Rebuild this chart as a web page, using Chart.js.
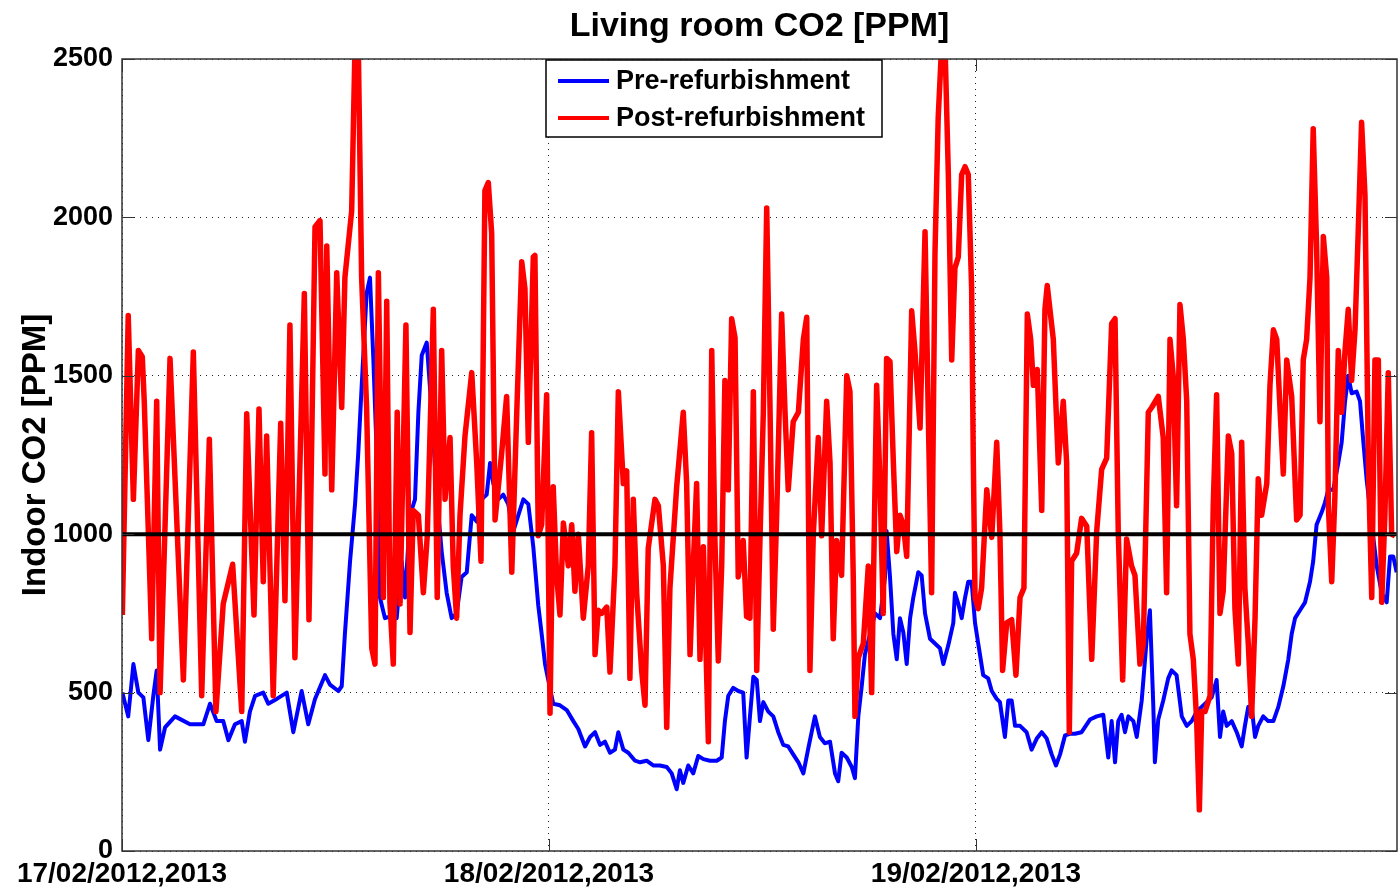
<!DOCTYPE html>
<html>
<head>
<meta charset="utf-8">
<title>Living room CO2 [PPM]</title>
<script src="https://cdn.jsdelivr.net/npm/chart.js@4.4.1/dist/chart.umd.min.js"></script>
<style>
  html, body { margin: 0; padding: 0; background: #fff; }
  #wrap { width: 1398px; height: 887px; }
</style>
</head>
<body>
<div id="wrap"><canvas id="co2" width="1398" height="887"></canvas></div>
<script>
// hours counted from 17/02 00:00, values in ppm
const dayLabels = ["17/02/2012,2013", "18/02/2012,2013", "19/02/2012,2013"];
const dayTicks = [0, 24, 48];
const hoursShown = 71.67;
const co2Limit = 1000;

const preHours = [
  0.02, 0.35, 0.64, 0.92, 1.20, 1.48, 1.76, 1.95, 2.14, 2.42, 2.98, 3.82, 4.57, 4.95, 5.32, 5.69,
  5.98, 6.35, 6.73, 6.91, 7.19, 7.48, 7.94, 8.22, 8.70, 9.26, 9.63, 10.10, 10.47, 10.85, 11.41, 11.69,
  12.16, 12.35, 12.53, 12.82, 13.10, 13.28, 13.47, 13.75, 13.94, 14.13, 14.32, 14.50, 14.78, 15.06,
  15.44, 15.72, 15.91, 16.19, 16.47, 16.66, 16.85, 17.13, 17.41, 17.69, 17.97, 18.25, 18.53, 18.81,
  19.09, 19.38, 19.66, 19.94, 20.22, 20.50, 20.69, 20.87, 21.15, 21.43, 21.71, 22.00, 22.28, 22.56,
  22.84, 23.12, 23.40, 23.59, 23.78, 23.96, 24.24, 24.62, 25.00, 25.37, 25.65, 26.03, 26.31, 26.59,
  26.87, 27.15, 27.43, 27.71, 27.90, 28.18, 28.46, 28.84, 29.12, 29.49, 29.86, 30.24, 30.62, 30.90,
  31.18, 31.36, 31.55, 31.83, 32.11, 32.39, 32.68, 33.05, 33.43, 33.71, 33.89, 34.08, 34.36, 34.64,
  34.92, 35.11, 35.30, 35.49, 35.68, 35.86, 36.05, 36.33, 36.61, 36.89, 37.17, 37.45, 37.73, 38.02,
  38.30, 38.58, 38.95, 39.23, 39.51, 39.80, 40.08, 40.26, 40.45, 40.74, 41.02, 41.20, 41.39, 41.58,
  41.76, 42.05, 42.33, 42.61, 42.89, 42.98, 43.17, 43.36, 43.55, 43.73, 43.92, 44.11, 44.30, 44.48,
  44.76, 44.95, 45.14, 45.42, 45.70, 45.98, 46.17, 46.45, 46.73, 46.82, 47.01, 47.20, 47.39, 47.57,
  47.76, 47.95, 48.13, 48.41, 48.69, 48.89, 49.17, 49.35, 49.63, 49.82, 50.01, 50.20, 50.48, 50.85,
  51.13, 51.42, 51.70, 51.98, 52.26, 52.50, 52.73, 53.01, 53.29, 53.57, 53.94, 54.41, 54.79, 55.16,
  55.44, 55.63, 55.82, 56.00, 56.19, 56.38, 56.57, 56.85, 57.04, 57.32, 57.60, 57.78, 57.97, 58.06,
  58.25, 58.53, 58.81, 59.00, 59.28, 59.57, 59.85, 60.13, 60.41, 60.69, 60.97, 61.25, 61.53, 61.72,
  61.90, 62.10, 62.38, 62.66, 62.94, 63.12, 63.31, 63.50, 63.69, 63.87, 64.15, 64.43, 64.72, 65.00,
  65.28, 65.56, 65.75, 65.94, 66.22, 66.50, 66.78, 66.96, 67.15, 67.44, 67.62, 67.81, 68.09, 68.37,
  68.56, 68.75, 68.93, 69.12, 69.40, 69.59, 69.78, 69.96, 70.25, 70.53, 70.81, 71.09, 71.28, 71.46,
  71.65
];
const preCO2 = [
  500, 425, 590, 500, 485, 350, 490, 570, 320, 390, 425, 400, 400, 465, 410, 410,
  350, 400, 410, 345, 440, 490, 500, 465, 480, 500, 375, 505, 400, 480, 555, 525,
  505, 520, 685, 915, 1095, 1255, 1465, 1760, 1810, 1550, 1250, 800, 735, 740,
  735, 915, 800, 1060, 1110, 1385, 1565, 1605, 1385, 1125, 945, 815, 735, 750,
  865, 880, 1060, 1040, 1110, 1125, 1225, 1160, 1110, 1125, 1095, 1010, 1060, 1110,
  1095, 960, 775, 685, 590, 540, 465, 460, 445, 410, 385, 330, 360, 375,
  335, 345, 310, 320, 375, 320, 310, 285, 280, 285, 270, 270, 265, 245,
  195, 255, 215, 270, 245, 300, 290, 285, 285, 295, 410, 490, 515, 505,
  500, 295, 425, 550, 540, 410, 470, 440, 425, 375, 335, 330, 305, 280,
  245, 325, 425, 360, 340, 345, 245, 220, 310, 295, 265, 230, 425, 520,
  620, 685, 750, 735, 865, 1010, 865, 685, 605, 735, 690, 590, 735, 800,
  880, 870, 750, 670, 655, 640, 590, 650, 720, 815, 780, 735, 800, 850,
  850, 720, 655, 555, 545, 505, 480, 470, 360, 475, 475, 395, 395, 375,
  320, 355, 375, 355, 305, 270, 305, 365, 370, 370, 375, 415, 425, 430,
  295, 410, 280, 410, 430, 375, 425, 410, 360, 475, 670, 760, 460, 280,
  415, 475, 545, 570, 555, 425, 395, 410, 440, 455, 470, 485, 540, 360,
  440, 395, 410, 375, 330, 395, 455, 455, 360, 395, 425, 410, 410, 455,
  520, 605, 685, 735, 760, 785, 850, 915, 1030, 1070, 1100, 1140, 1140, 1225,
  1290, 1420, 1500, 1445, 1450, 1420, 1290, 1175, 1030, 900, 815, 785, 930, 930,
  880
];

const postHours = [
  0.02, 0.35, 0.64, 0.92, 1.14, 1.25, 1.67, 1.95, 2.14, 2.70, 3.45, 4.01, 4.48, 4.91, 5.28, 5.69,
  6.22, 6.73, 7.01, 7.42, 7.70, 7.94, 8.13, 8.50, 8.92, 9.16, 9.44, 9.72, 10.25, 10.51, 10.85, 11.13,
  11.41, 11.51, 11.79, 12.07, 12.35, 12.53, 12.91, 13.10, 13.28, 13.47, 13.75, 14.04, 14.22, 14.41,
  14.69, 14.88, 15.06, 15.25, 15.47, 15.63, 15.96, 16.19, 16.37, 16.66, 16.94, 17.16, 17.50, 17.72,
  17.97, 18.16, 18.44, 18.62, 18.81, 19.00, 19.28, 19.66, 19.94, 20.18, 20.40, 20.59, 20.78, 20.97,
  21.34, 21.62, 21.91, 22.19, 22.47, 22.65, 22.84, 23.12, 23.21, 23.40, 23.59, 23.87, 24.06, 24.24,
  24.43, 24.62, 24.81, 25.09, 25.28, 25.46, 25.65, 25.93, 26.21, 26.40, 26.59, 26.77, 26.96, 27.25,
  27.43, 27.71, 27.90, 28.18, 28.37, 28.55, 28.74, 28.93, 29.21, 29.40, 29.58, 29.96, 30.15, 30.43,
  30.62, 30.80, 31.18, 31.55, 31.74, 31.93, 32.11, 32.30, 32.49, 32.68, 32.96, 33.15, 33.33, 33.52,
  33.71, 33.89, 34.08, 34.27, 34.46, 34.64, 34.92, 35.11, 35.30, 35.49, 35.68, 35.86, 36.05, 36.24,
  36.42, 36.61, 36.80, 37.08, 37.27, 37.45, 37.73, 38.02, 38.30, 38.49, 38.67, 38.86, 39.14, 39.33,
  39.61, 39.80, 39.98, 40.17, 40.45, 40.74, 40.92, 41.11, 41.20, 41.39, 41.67, 41.95, 42.14, 42.42,
  42.61, 42.79, 42.98, 43.17, 43.36, 43.55, 43.73, 43.92, 44.11, 44.39, 44.57, 44.86, 45.14, 45.32,
  45.51, 45.70, 45.88, 46.08, 46.26, 46.45, 46.64, 46.82, 47.01, 47.20, 47.39, 47.57, 47.76, 47.85,
  47.95, 48.13, 48.32, 48.61, 48.89, 49.17, 49.35, 49.50, 49.73, 50.01, 50.25, 50.48, 50.70, 50.89,
  51.08, 51.23, 51.45, 51.70, 51.88, 52.01, 52.35, 52.63, 52.91, 53.10, 53.25, 53.38, 53.66, 53.94,
  54.23, 54.51, 54.79, 55.07, 55.35, 55.63, 55.82, 56.00, 56.25, 56.47, 56.75, 56.94, 57.22, 57.41,
  57.69, 57.88, 58.25, 58.53, 58.72, 58.91, 59.09, 59.28, 59.47, 59.66, 59.85, 60.03, 60.22, 60.41,
  60.56, 60.69, 60.88, 61.16, 61.34, 61.53, 61.72, 61.90, 62.19, 62.38, 62.56, 62.75, 62.94, 63.12,
  63.31, 63.50, 63.69, 63.87, 64.06, 64.35, 64.53, 64.72, 64.91, 65.09, 65.28, 65.47, 65.75, 66.03,
  66.22, 66.40, 66.59, 66.78, 66.96, 67.15, 67.34, 67.53, 67.72, 67.81, 68.00, 68.18, 68.37, 68.56,
  68.75, 68.93, 69.12, 69.31, 69.49, 69.68, 69.87, 70.06, 70.25, 70.43, 70.62, 70.81, 70.99, 71.18,
  71.37, 71.56
];
const postCO2 = [
  745, 1690, 1110, 1580, 1560, 1420, 670, 1420, 500, 1555, 540, 1575, 490, 1300, 440, 780,
  905, 440, 1380, 745, 1395, 850, 1310, 490, 1350, 790, 1660, 610, 1760, 730, 1970, 1990,
  1190, 1910, 1140, 1825, 1400, 1810, 2020, 2550, 2550, 1810, 1400, 640, 590, 1825,
  800, 1735, 785, 590, 1385, 780, 1660, 690, 1075, 1060, 815, 995, 1710, 800,
  1580, 1110, 1305, 900, 735, 1060, 1310, 1510, 1225, 915, 2085, 2110, 1950, 1045,
  1255, 1435, 880, 1385, 1860, 1775, 1290, 1875, 1880, 995, 1030, 1440, 435, 1150,
  870, 745, 1035, 900, 1030, 820, 1000, 735, 900, 1320, 620, 760, 750, 770,
  565, 900, 1450, 1160, 1200, 545, 1110, 815, 570, 460, 955, 1110, 1090, 900,
  390, 830, 1150, 1385, 1160, 620, 900, 1160, 605, 960, 345, 1580, 980, 600,
  900, 1485, 1140, 1680, 1620, 865, 980, 740, 735, 1450, 570, 980, 1385, 2030,
  1420, 700, 1060, 1695, 1385, 1140, 1355, 1385, 1615, 1685, 570, 1000, 1305, 995,
  1420, 1225, 670, 980, 870, 1500, 1450, 850, 425, 610, 655, 900, 500, 1470,
  1160, 750, 1555, 1545, 1225, 945, 1060, 1030, 930, 1705, 1580, 1335, 1955, 1385,
  815, 1890, 2315, 2550, 2550, 2135, 1550, 1840, 1875, 2135, 2160, 2135, 1775, 1255,
  800, 765, 830, 1140, 990, 1290, 1000, 570, 720, 730, 555, 800, 830, 1695,
  1615, 1470, 1520, 1075, 1710, 1785, 1615, 1225, 1420, 1225, 375, 915, 940, 1050,
  1025, 605, 1010, 1205, 1240, 1665, 1680, 1010, 540, 985, 900, 870, 590, 655,
  1385, 1400, 1435, 1305, 815, 1615, 1500, 1090, 1725, 1615, 1420, 685, 605, 410,
  130, 440, 440, 490, 1090, 1440, 750, 820, 1310, 1255, 765, 590, 1290, 830,
  655, 425, 735, 1175, 1060, 1160, 1470, 1645, 1615, 1400, 1190, 1550, 1435, 1045,
  1060, 1550, 1615, 1810, 2280, 1910, 1355, 1940, 1810, 1090, 850, 1120, 1580, 1385,
  1580, 1710, 1485, 1645, 1955, 2300, 2070, 1225, 800, 1550, 1550, 785, 1060, 1510,
  1000, 995
];

const FONT = "'Liberation Sans', Arial, Helvetica, sans-serif";

function toPoints(hours, values) {
  return hours.map((h, i) => ({ x: h, y: values[i] }));
}

// MATLAB look: box round the axes, inward ticks, title, legend box in the plot
const matlabAxes = {
  id: "matlabAxes",
  beforeDraw(chart) {
    const ctx = chart.ctx;
    ctx.save();
    ctx.fillStyle = "#fff";
    ctx.fillRect(0, 0, chart.width, chart.height);
    ctx.restore();
  },
  afterDatasetsDraw(chart) {
    const { ctx, chartArea: a, scales } = chart;
    const x = scales.x, y = scales.y;
    ctx.save();

    ctx.strokeStyle = "#333";
    ctx.lineWidth = 1.5;
    ctx.strokeRect(a.left, a.top, a.right - a.left, a.bottom - a.top);

    ctx.beginPath();
    y.ticks.forEach(t => {
      const py = Math.round(y.getPixelForValue(t.value)) + 0.5;
      ctx.moveTo(a.left, py); ctx.lineTo(a.left + 12, py);
      ctx.moveTo(a.right, py); ctx.lineTo(a.right - 12, py);
    });
    x.ticks.forEach(t => {
      const px = Math.round(x.getPixelForValue(t.value)) + 0.5;
      ctx.moveTo(px, a.bottom); ctx.lineTo(px, a.bottom - 12);
      ctx.moveTo(px, a.top); ctx.lineTo(px, a.top + 12);
    });
    ctx.lineWidth = 1;
    ctx.stroke();

    // title
    ctx.fillStyle = "#000";
    ctx.font = "bold 34px " + FONT;
    ctx.textAlign = "center";
    ctx.textBaseline = "alphabetic";
    ctx.fillText("Living room CO2 [PPM]", (a.left + a.right) / 2, 36);

    // legend
    const items = chart.data.datasets.filter(d => d.inLegend).reverse();
    const bx = a.left + 424, by = a.top + 1, bw = 336, bh = 77;
    ctx.fillStyle = "#fff";
    ctx.fillRect(bx, by, bw, bh);
    ctx.strokeStyle = "#000";
    ctx.lineWidth = 1.5;
    ctx.strokeRect(bx, by, bw, bh);
    ctx.font = "bold 27px " + FONT;
    ctx.textAlign = "left";
    ctx.textBaseline = "middle";
    items.forEach((d, i) => {
      const ry = by + 21 + i * 37;
      ctx.strokeStyle = d.borderColor;
      ctx.lineWidth = 4;
      ctx.beginPath();
      ctx.moveTo(bx + 12, ry);
      ctx.lineTo(bx + 63, ry);
      ctx.stroke();
      ctx.fillStyle = "#000";
      ctx.fillText(d.label, bx + 70, ry + 1);
    });
    ctx.restore();
  }
};

new Chart(document.getElementById("co2"), {
  type: "line",
  data: {
    datasets: [
      {
        label: "limit",
        data: [{ x: 0, y: co2Limit }, { x: hoursShown, y: co2Limit }],
        borderColor: "#000",
        borderWidth: 4,
        pointRadius: 0,
        clip: 0
      },
      {
        label: "Post-refurbishment",
        inLegend: true,
        data: toPoints(postHours, postCO2),
        borderColor: "#ff0000",
        borderWidth: 5.5,
        borderJoinStyle: "round",
        pointRadius: 0,
        clip: 0
      },
      {
        label: "Pre-refurbishment",
        inLegend: true,
        data: toPoints(preHours, preCO2),
        borderColor: "#0000ff",
        borderWidth: 4,
        borderJoinStyle: "round",
        pointRadius: 0,
        clip: 0
      }
    ]
  },
  options: {
    responsive: false,
    animation: false,
    events: [],
    layout: { padding: { top: 59, right: 1, left: 0, bottom: 0 } },
    plugins: { legend: { display: false }, tooltip: { enabled: false } },
    scales: {
      x: {
        type: "linear",
        min: 0,
        max: hoursShown,
        afterBuildTicks: s => { s.ticks = dayTicks.map(v => ({ value: v })); },
        afterFit: s => { s.height = 36; },
        grid: { color: "#222", lineWidth: 1, drawTicks: false },
        border: { display: false, dash: [1, 5] },
        ticks: {
          color: "#000",
          padding: 6,
          maxRotation: 0,
          autoSkip: false,
          font: { family: FONT, size: 28, weight: "bold" },
          callback: v => dayLabels[dayTicks.indexOf(v)]
        }
      },
      y: {
        min: 0,
        max: 2500,
        afterFit: s => { s.width = 122; },
        grid: { color: "#222", lineWidth: 1, drawTicks: false },
        border: { display: false, dash: [1, 5] },
        ticks: {
          stepSize: 500,
          color: "#000",
          padding: 9,
          font: { family: FONT, size: 27, weight: "bold" },
          callback: v => String(v)
        },
        title: {
          display: true,
          text: "Indoor CO2 [PPM]",
          color: "#000",
          padding: { top: 16, bottom: 0 },
          font: { family: FONT, size: 33, weight: "bold" }
        }
      }
    }
  },
  plugins: [matlabAxes]
});
</script>
</body>
</html>
